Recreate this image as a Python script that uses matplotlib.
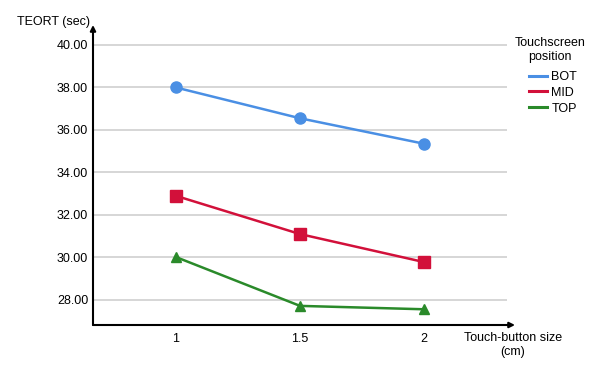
import matplotlib.pyplot as plt

plt.rcParams['font.family'] = ['Liberation Sans', 'DejaVu Sans']

sizes = ['1', '1.5', '2']
bot = [38.00, 36.55, 35.35]
mid = [32.90, 31.10, 29.78]
top = [30.02, 27.72, 27.56]
yticks = [28, 30, 32, 34, 36, 38, 40]

fig = plt.figure(figsize=(6.13, 3.70), dpi=100)
ax = fig.add_axes([93 / 613, 45 / 370, (507 - 93) / 613, 300 / 370])

x = range(len(sizes))
ax.plot(x, bot, color='#4a8fe4', lw=1.8, marker='o', ms=8, label='BOT', zorder=3)
ax.plot(x, mid, color='#d2103a', lw=1.8, marker='s', ms=8, label='MID', zorder=3)
ax.plot(x, top, color='#2a8a2a', lw=1.8, marker='^', ms=7, label='TOP', zorder=3)

ax.set_xlim(-0.667, 2.667)
ax.set_ylim(26.82, 40.94)
ax.set_xticks(list(x))
ax.set_xticklabels(sizes)
ax.set_yticks(yticks)
ax.set_yticklabels([f'{v:.2f}' for v in yticks])
ax.tick_params(length=0, labelsize=9)
ax.tick_params(axis='y', pad=3.5)
ax.tick_params(axis='x', pad=6)
ax.grid(axis='y', color='#d0d0d0', lw=1.2)
ax.set_axisbelow(True)
for s in ['top', 'right', 'bottom', 'left']:
    ax.spines[s].set_visible(False)

# axis arrows
ax.annotate('', xy=(0, 1.0), xytext=(0, 0), xycoords='axes fraction',
            arrowprops=dict(arrowstyle='-|>', color='black', lw=1.5,
                            mutation_scale=8, shrinkA=0, shrinkB=0))
ax.annotate('', xy=(515 / 613, 45 / 370), xytext=(93 / 613, 45 / 370),
            xycoords='figure fraction',
            arrowprops=dict(arrowstyle='-|>', color='black', lw=1.5,
                            mutation_scale=8, shrinkA=0, shrinkB=0))

fig.text(17 / 613, 1 - 22 / 370, 'TEORT (sec)', fontsize=9, ha='left', va='center')
fig.text(513 / 613, 1 - 345 / 370, 'Touch-button size\n(cm)', fontsize=9,
         ha='center', va='center', linespacing=1.3)

# legend title as separate text
fig.text(550 / 613, 1 - 50 / 370, 'Touchscreen\nposition', fontsize=9,
         ha='center', va='center', linespacing=1.3)
leg = fig.legend(loc='upper left', bbox_to_anchor=(529 / 613, 1 - 71 / 370),
                 frameon=False, fontsize=9, handlelength=1.45, handletextpad=0.35,
                 labelspacing=0.3, borderpad=0, borderaxespad=0)
for h in leg.legend_handles:
    h.set_marker('')
    h.set_linewidth(2.2)

fig.savefig('out.png', dpi=100)
